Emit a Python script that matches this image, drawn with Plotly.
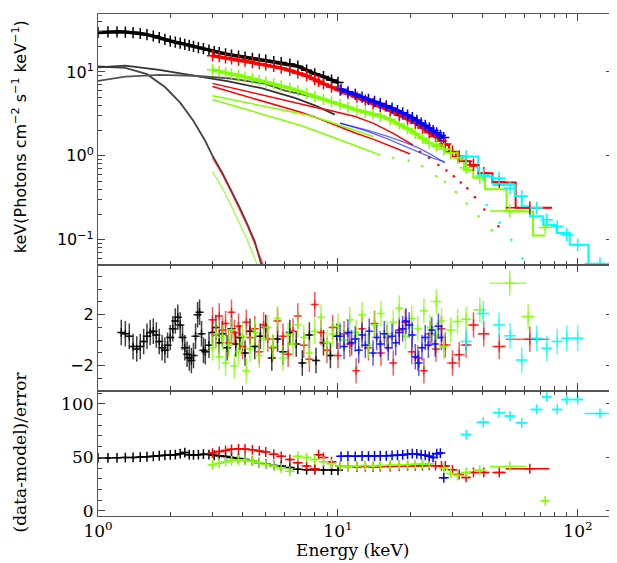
import plotly.graph_objects as go
from plotly.subplots import make_subplots

# ---- black dataset (1-10 keV) ----
E_BLACK = [1.0, 1.1, 1.2, 1.3, 1.4, 1.5, 1.6, 1.7, 1.8, 1.9, 2.0, 2.1, 2.2, 2.3, 2.4, 2.5, 2.62, 2.75,
           2.9, 3.05, 3.2, 3.4, 3.6, 3.85, 4.1, 4.4, 4.7, 5.0, 5.4, 5.8, 6.3, 6.8, 7.4, 8.0, 8.7, 9.4, 10.0]
BLACK_SPEC = [29.5, 30.0, 30.0, 29.8, 29.4, 28.7, 27.8, 26.8, 25.6, 24.4, 23.3, 22.6, 22.0, 21.3, 20.7, 20.1,
              19.5, 18.9, 18.2, 17.5, 17.0, 16.4, 15.9, 15.4, 15.0, 14.5, 14.1, 13.8, 13.3, 12.9, 12.4, 11.7,
              10.5, 9.5, 8.8, 8.0, 7.5]
BLACK_RATIO = [49.5, 49.5, 49.6, 49.8, 50.0, 50.3, 50.6, 51.0, 51.5, 52.0, 52.3, 52.5, 53.5, 54.5, 52.5, 52.3,
               52.5, 53.0, 52.6, 52.0, 51.5, 50.8, 50.0, 49.0, 48.0, 46.5, 45.0, 43.8, 42.5, 42.0, 40.5, 39.0,
               38.5, 38.5, 38.3, 38.2, 38.0]
E_BLACK_RES = [1.25, 1.3, 1.35, 1.4, 1.45, 1.5, 1.55, 1.6, 1.65, 1.7, 1.75, 1.8, 1.85, 1.9, 1.95, 2.0, 2.05,
               2.1, 2.15, 2.2, 2.25, 2.3, 2.35, 2.4, 2.45, 2.5, 2.55, 2.6, 2.65, 2.7, 2.75, 2.8, 2.9, 3.0, 3.1,
               3.2, 3.3, 3.45, 3.6, 3.75, 3.9, 4.1, 4.3, 4.5, 4.75, 5.0, 5.3, 5.6, 5.9, 6.3, 6.7, 7.1, 7.6,
               8.1, 8.7, 9.3, 9.9]
BLACK_RES = [0.6, 0.5, 0.3, -0.5, -0.7, -0.5, -0.1, 0.3, 0.6, 0.7, 0.4, -0.1, -0.6, -0.8, -0.4, 0.2, 0.9,
             1.5, 1.8, 1.2, 0.2, -0.6, -1.1, -1.4, -1.6, -1.2, 0.3, 2.0, 2.2, 0.5, -0.8, -0.9, -0.4, 0.6, 1.0,
             -0.2, 0.5, -0.6, 0.9, -0.3, 0.2, -1.0, 0.7, -0.5, 0.3, 1.0, -1.4, 0.1, -0.9, 0.6, -0.3, -1.8, 0.4,
             -1.6, -0.2, -1.2, 0.3]

# ---- red dataset ----
E_RED = [3.0, 3.2, 3.4, 3.6, 3.85, 4.1, 4.4, 4.7, 5.0, 5.4, 5.8, 6.3, 6.8, 7.4, 8.0, 8.3, 8.7, 9.4, 10.2,
         11.0, 12.0, 13.0, 14.0, 15.0, 16.5, 18.0, 19.5, 21.0, 22.5, 24.0, 25.5, 27.0]
RED_SPEC = [15.6, 15.2, 14.7, 14.3, 13.8, 13.4, 12.9, 12.5, 12.1, 11.6, 11.1, 10.4, 9.7, 9.0, 8.1, 7.7, 7.2,
            6.6, 6.0, 5.5, 5.0, 4.6, 4.2, 3.87, 3.45, 3.05, 2.75, 2.45, 2.15, 1.9, 1.7, 1.5]
RED_RATIO = [54.0, 55.5, 56.5, 57.5, 58.0, 57.8, 57.0, 56.0, 55.0, 53.0, 51.0, 48.0, 45.0, 42.0, 39.5, 52.5,
             50.0, 46.0, 42.0, 41.5, 41.0, 41.5, 41.0, 41.3, 41.5, 41.8, 42.0, 42.0, 42.3, 42.5, 42.3, 42.0]
E_RED_BIN = [28.0, 30.0, 32.0, 34.2, 36.7, 40.5, 47.0, 63.0]
RED_BIN_HW = [0.8, 1.0, 1.0, 1.2, 1.4, 2.2, 3.0, 13.0]
RED_BIN_SPEC = [1.38, 1.12, 0.98, 0.86, 0.78, 0.62, 0.49, 0.24]
RED_BIN_RES = [-0.37, -1.8, -1.15, -0.37, 1.2, 0.5, -0.5, 0.08]
RED_BIN_RATIO = [42.0, 38.4, 34.0, 31.3, 36.0, 36.0, 36.0, 39.4]
RED_STEP_EDGES = [26.5, 29.0, 31.0, 33.0, 35.5, 38.5, 44.0, 55.0, 78.0]
RED_STEP = [1.35, 1.12, 0.98, 0.86, 0.76, 0.62, 0.48, 0.24]

# residual energies shared by the red and green (3-27 keV) sets
E_XMM_RES = [3.0, 3.1, 3.2, 3.3, 3.4, 3.5, 3.6, 3.7, 3.85, 4.0, 4.15, 4.3, 4.5, 4.7, 4.9, 5.1, 5.35, 5.6, 5.9,
             6.2, 6.5, 6.8, 7.2, 7.6, 8.0, 8.5, 9.0, 9.5, 10.0, 10.6, 11.2, 11.9, 12.6, 13.4, 14.2, 15.1, 16.0,
             17.0, 18.0, 19.1, 20.3, 21.5, 22.8, 24.2, 25.6, 27.0]
RED_RES = [1.6, 0.4, 1.9, 0.8, 1.3, -0.2, 2.2, 0.6, 1.1, -0.5, 1.4, 0.2, 0.9, -0.9, 1.2, 0.1, -0.6, 1.5, 0.3,
           -1.1, 0.7, 1.9, -0.4, -1.5, 2.8, 0.6, -0.8, 1.0, -1.2, 0.5, -0.3, -2.4, 0.9, -0.6, 1.3, -1.0, 0.2,
           -1.8, 0.8, 1.4, -0.9, -1.4, -2.4, 0.5, -0.7, 0.9]
GREEN_RES = [-0.6, 0.5, -1.3, 0.2, -1.8, -0.4, 0.8, -2.0, -0.9, 0.3, -2.4, -0.7, 0.6, -1.2, 0.1, 1.0, -0.5,
             1.7, -1.4, 0.4, -0.3, 1.2, 0.2, -1.0, 0.7, 1.8, -0.2, 0.5, 1.1, 0.0, 1.6, 0.6, 2.0, -0.4, 1.2, 2.1,
             0.5, 1.4, 2.5, 0.3, 1.7, 0.9, 2.3, 1.0, 0.4, 1.5]

# ---- green dataset ----
E_GREEN = [3.0, 3.2, 3.4, 3.6, 3.85, 4.1, 4.4, 4.7, 5.0, 5.4, 5.8, 6.3, 6.8, 7.4, 8.0, 8.7, 9.4, 10.2, 11.0,
           12.0, 13.0, 14.0, 15.0, 16.5, 18.0, 19.5, 21.0, 22.5, 24.0]
GREEN_SPEC = [10.6, 10.2, 9.8, 9.5, 9.1, 8.7, 8.3, 7.9, 7.6, 7.2, 6.8, 6.4, 6.0, 5.5, 5.1, 4.7, 4.4, 4.1, 3.8,
              3.5, 3.3, 3.15, 3.0, 2.7, 2.4, 2.1, 1.85, 1.62, 1.42]
GREEN_RATIO = [43.0, 44.5, 46.0, 47.0, 47.8, 47.5, 46.5, 45.0, 43.5, 42.0, 40.0, 37.0, 51.0, 50.0, 48.0, 46.0,
               44.0, 42.0, 41.5, 42.0, 42.5, 42.0, 42.5, 43.0, 43.0, 43.2, 43.5, 43.8, 44.0]
E_GREEN_BIN = [25.7, 27.6, 29.5, 31.5, 34.2, 39.0, 52.0, 62.0, 73.0]
GREEN_BIN_HW = [0.8, 0.9, 0.9, 1.0, 1.3, 2.5, 9.0, 4.0, 2.0]
GREEN_BIN_SPEC = [1.35, 1.2, 1.08, 0.95, 0.72, 0.55, 0.22, None, 0.14]
GREEN_BIN_RES = [3.03, -0.5, 0.8, 1.46, 1.65, 2.38, 4.47, 1.85, None]
GREEN_BIN_RATIO = [None, 40.0, 35.0, 33.0, 36.0, 38.0, 41.5, None, 9.4]
GREEN_STEP_EDGES = [24.5, 27.9, 31.8, 33.5, 36.6, 41.0, 50.4, 65.0, 73.0]
GREEN_STEP = [1.3, 1.12, 0.90, 0.68, 0.55, 0.40, 0.217, 0.112]

# ---- blue dataset ----
E_BLUE = [10.3, 11.0, 11.8, 12.6, 13.4, 14.2, 15.0, 15.9, 16.8, 17.7, 18.6, 19.5, 20.4, 21.3, 22.2, 23.1,
          24.0, 24.9, 25.8, 26.7, 27.6]
BLUE_SPEC = [6.2, 5.8, 5.4, 5.0, 4.7, 4.45, 4.2, 3.95, 3.7, 3.45, 3.25, 3.05, 2.85, 2.65, 2.45, 2.3, 2.15,
             2.0, 1.88, 1.75, 1.65]
BLUE_RATIO = [51.0, 51.2, 51.0, 51.3, 51.2, 51.3, 51.5, 51.5, 51.8, 52.0, 52.3, 53.0, 53.5, 53.2, 52.5, 52.0,
              51.0, 50.0, 53.5, 54.0, 31.0]
E_BLUE_RES = [10.2, 10.6, 11.0, 11.4, 11.8, 12.2, 12.6, 13.0, 13.5, 14.0, 14.5, 15.0, 15.6, 16.2, 16.8, 17.4,
              18.0, 18.6, 19.2, 19.8, 20.4, 21.0, 21.7, 22.4, 23.1, 23.8, 24.6, 25.4, 26.2, 27.0]
BLUE_RES = [0.3, -0.5, 0.6, -0.2, 0.1, -0.8, 0.4, -0.4, 0.7, -1.0, 0.2, -0.3, 0.5, -0.6, 0.3, -0.2, 0.6, 0.9,
            1.5, 1.2, 0.4, -1.3, -1.8, -0.6, 0.2, -0.4, 0.8, -0.3, 1.1, 0.2]

# ---- cyan dataset ----
E_CYAN = [34.2, 40.3, 46.9, 52.1, 58.3, 67.3, 74.1, 82.0, 89.8, 99.7, 123.5]
CYAN_HW = [1.8, 2.5, 2.8, 2.8, 3.2, 4.0, 3.5, 4.0, 4.5, 5.5, 17.0]
CYAN_SPEC = [0.98, 0.59, 0.54, 0.41, 0.33, 0.24, 0.173, 0.144, 0.115, 0.087, 0.052]
CYAN_RES = [-0.1, 2.1, 1.2, 0.34, -1.55, 0.16, -0.63, -0.1, 0.16, 0.16, None]
CYAN_RATIO = [71.3, 82.8, 91.6, 88.5, 82.3, 94.7, 106.3, 94.7, 104.0, 104.0, 91.0]
CYAN_STEP_EDGES = [33.8, 38.4, 44.4, 54.6, 58.3, 63.1, 71.6, 81.4, 92.4, 110.5, 140.0]
CYAN_STEP = [0.98, 0.57, 0.45, 0.33, 0.25, 0.19, 0.15, 0.12, 0.087, 0.045]

# ---- model components ----
E_BB = [1.0, 1.3, 1.6, 1.9, 2.2, 2.5, 2.8, 3.0, 3.3, 3.6, 3.9, 4.2, 4.5, 4.8]
BB_BLACK = [11.6, 11.2, 9.4, 6.6, 4.3, 2.6, 1.5, 1.0, 0.62, 0.38, 0.24, 0.15, 0.095, 0.05]
E_BB2 = [3.0, 3.3, 3.6, 3.9, 4.2, 4.5, 4.8, 5.0]
BB_RED = [0.95, 0.6, 0.37, 0.23, 0.145, 0.09, 0.056, 0.042]
BB_GREEN = [0.65, 0.41, 0.25, 0.155, 0.097, 0.06, 0.037, 0.028]
E_GRAY_Q = [1.0, 1.3, 1.8, 2.5, 3.5, 4.8, 6.6, 8.0, 9.7]
GRAY_Q = [11.3, 11.9, 10.6, 9.0, 7.7, 6.4, 4.9, 4.0, 3.1]
E_GRAY_P = [1.0, 1.3, 1.8, 2.5, 3.5, 4.1, 5.0, 6.0, 7.0, 8.0, 9.1]
GRAY_P = [7.8, 8.8, 9.2, 9.0, 8.4, 7.9, 7.2, 6.0, 5.4, 5.0, 4.6]
E_R1 = [3.0, 4.0, 5.0, 6.0, 7.0, 8.0, 9.0, 10.0, 11.8, 14.0, 17.0, 20.5]
R1 = [7.3, 6.0, 5.2, 4.6, 4.1, 3.8, 3.55, 3.3, 2.94, 2.45, 1.85, 1.35]
E_R2 = [3.0, 4.0, 5.0, 6.0, 7.0, 8.0, 9.25, 10.5, 11.8, 14.0, 17.0, 20.0]
R2 = [6.7, 5.3, 4.4, 3.8, 3.3, 2.9, 2.45, 2.15, 1.87, 1.58, 1.28, 1.05]
E_R_DOTS = [22.0, 24.0, 26.2, 28.3, 30.4, 32.5, 34.6, 37.2, 40.7, 46.6]
R_DOTS = [1.12, 0.95, 0.78, 0.67, 0.57, 0.48, 0.41, 0.32, 0.23, 0.145]
E_G1 = [3.0, 4.0, 5.0, 6.0, 7.5, 9.0, 10.5, 11.8, 14.0]
G1 = [5.2, 4.4, 3.9, 3.5, 3.05, 2.6, 2.25, 2.0, 1.7]
E_G2 = [3.0, 4.0, 5.0, 6.0, 7.0, 8.0, 9.25, 10.5, 11.8, 13.5, 15.0]
G2 = [4.7, 3.7, 3.05, 2.6, 2.3, 2.0, 1.7, 1.5, 1.33, 1.15, 1.02]
E_G_DOTS = [17.0, 19.7, 22.4, 25.7, 27.9, 31.0, 34.4, 38.5, 43.7]
G_DOTS = [0.95, 0.88, 0.75, 0.57, 0.49, 0.37, 0.27, 0.19, 0.13]
E_B_LINE = [10.2, 13.0, 16.0, 19.0, 22.0, 25.0, 27.9]
B1 = [2.45, 2.05, 1.72, 1.45, 1.22, 1.0, 0.82]
B2 = [2.45, 2.0, 1.6, 1.3, 1.08, 0.93, 0.85]
E_C_DOTS = [41.6, 47.1, 52.8, 58.6]
C_DOTS = [0.26, 0.16, 0.10, 0.06]

BLACK = "black"
RED = "#ff0000"
LIME = "#7fff00"
BLUE = "#0000ff"
CYAN = "#00ffff"
FADE = {BLACK: "rgba(0,0,0,0.75)", RED: "rgba(255,0,0,0.65)", LIME: "rgba(127,255,0,0.7)",
        BLUE: "rgba(0,0,255,0.65)", CYAN: "rgba(0,255,255,0.7)"}

fig = make_subplots(rows=3, cols=1, shared_xaxes=True, vertical_spacing=0, row_heights=[0.5, 0.25, 0.25])


def add_points(x, y, color, row, hw=None, yerr=None, size=8, width=1.5):
    """Data points drawn as '+' crosses with error bars"""
    err_x = dict(type="percent", value=2.5) if hw is None else dict(type="data", array=hw)
    err_x.update(color=color, thickness=1.5, width=0)
    trace = go.Scatter(
        x=x, y=y, mode="markers",
        marker=dict(symbol="cross-thin", size=size, line=dict(color=color, width=width)),
        error_x=err_x,
    )
    if yerr is not None:
        trace.error_y = dict(type="constant", value=yerr, color=color, thickness=1.5, width=0)
    fig.add_trace(trace, row=row, col=1)


def add_line(x, y, color, width=1.5, dots=False, shape="linear"):
    fig.add_trace(
        go.Scatter(
            x=x, y=y,
            mode="markers" if dots else "lines",
            line=dict(color=color, width=width, shape=shape),
            marker=dict(color=color, size=2.5),
        ),
        row=1, col=1,
    )


# Top panel - model components
add_line(E_BB, BB_BLACK, "#444444", 1.8)
add_line(E_GRAY_Q, GRAY_Q, "#333333", 1.8)
add_line(E_GRAY_P, GRAY_P, "#555555", 1.8)
add_line(E_BB2, BB_RED, "rgba(255,0,0,0.7)", 1.5)
add_line(E_BB2, BB_GREEN, "rgba(127,255,0,0.8)", 1.2)
add_line(E_R1, R1, RED, 1.5)
add_line(E_R2, R2, RED, 1.5)
add_line(E_R_DOTS, R_DOTS, RED, dots=True)
add_line(E_G1, G1, LIME, 1.5)
add_line(E_G2, G2, LIME, 1.5)
add_line(E_G_DOTS, G_DOTS, LIME, dots=True)
add_line(E_B_LINE, B1, "rgba(0,0,255,0.6)", 1.3)
add_line(E_B_LINE, B2, "rgba(0,0,255,0.6)", 1.3)
add_line(E_C_DOTS, C_DOTS, CYAN, dots=True)

# Top panel - binned model steps
add_line(RED_STEP_EDGES, RED_STEP + RED_STEP[-1:], RED, 2, shape="hv")
add_line(GREEN_STEP_EDGES, GREEN_STEP + GREEN_STEP[-1:], LIME, 2, shape="hv")
add_line(CYAN_STEP_EDGES, CYAN_STEP + CYAN_STEP[-1:], CYAN, 2, shape="hv")

# Top panel - data
add_line(E_BLACK, BLACK_SPEC, BLACK, 3.5)
add_points(E_BLACK, BLACK_SPEC, BLACK, 1, size=8)
add_line(E_GREEN, GREEN_SPEC, LIME, 3.5)
add_points(E_GREEN, GREEN_SPEC, LIME, 1, size=8)
add_line(E_RED, RED_SPEC, RED, 3.5)
add_points(E_RED, RED_SPEC, RED, 1, size=8)
add_line(E_BLUE, BLUE_SPEC, BLUE, 3.5)
add_points(E_BLUE, BLUE_SPEC, BLUE, 1, size=8)
add_points(E_RED_BIN, RED_BIN_SPEC, RED, 1, hw=RED_BIN_HW, size=9)
add_points(E_GREEN_BIN, GREEN_BIN_SPEC, LIME, 1, hw=GREEN_BIN_HW, size=9)
add_points(E_CYAN, CYAN_SPEC, CYAN, 1, hw=CYAN_HW, size=9)

# Middle panel - residuals
fig.add_hline(y=0, line=dict(color="green", width=1.5), row=2, col=1)
add_points(E_BLACK_RES, BLACK_RES, FADE[BLACK], 2, yerr=1, size=6)
add_points(E_XMM_RES, RED_RES, FADE[RED], 2, yerr=1, size=6)
add_points(E_XMM_RES, GREEN_RES, FADE[LIME], 2, yerr=1, size=6)
add_points(E_BLUE_RES, BLUE_RES, FADE[BLUE], 2, yerr=1, size=6)
add_points(E_RED_BIN, RED_BIN_RES, FADE[RED], 2, hw=RED_BIN_HW, yerr=1, size=8)
add_points(E_GREEN_BIN, GREEN_BIN_RES, FADE[LIME], 2, hw=GREEN_BIN_HW, yerr=1, size=8)
add_points(E_CYAN, CYAN_RES, FADE[CYAN], 2, hw=CYAN_HW, yerr=1, size=8)

# Bottom panel
fig.add_hline(y=0, line=dict(color="rgba(0,128,0,0.55)", width=2.5), row=3, col=1)
add_points(E_BLACK, BLACK_RATIO, BLACK, 3, size=7)
add_points(E_RED, RED_RATIO, RED, 3, size=7)
add_points(E_GREEN, GREEN_RATIO, LIME, 3, size=7)
add_points(E_BLUE, BLUE_RATIO, BLUE, 3, size=7)
add_points(E_RED_BIN, RED_BIN_RATIO, RED, 3, hw=RED_BIN_HW, size=7)
add_points(E_GREEN_BIN, GREEN_BIN_RATIO, LIME, 3, hw=GREEN_BIN_HW, size=7)
add_points(E_CYAN, CYAN_RATIO, CYAN, 3, hw=CYAN_HW, size=7)

# Axes styling
SANS = dict(family="DejaVu Sans", size=16, color="black")
SERIF = dict(family="DejaVu Serif", size=17, color="black")
FRAME = dict(showline=True, linecolor="#555555", linewidth=1.1, mirror="allticks", ticks="inside",
             ticklen=7, tickcolor="#444444", showgrid=False, zeroline=False)

fig.update_xaxes(
    type="log", range=[0, 2.146],
    tickvals=[1, 10, 100], ticktext=["10<sup>0</sup>", "10<sup>1</sup>", "10<sup>2</sup>"],
    minor=dict(ticks="inside", ticklen=4, tickcolor="#444444",
               tickvals=[2, 3, 4, 5, 6, 7, 8, 9, 20, 30, 40, 50, 60, 70, 80, 90]),
    tickfont=SERIF, **FRAME,
)
fig.update_yaxes(
    type="log", range=[-1.301, 1.69],
    tickvals=[0.1, 1, 10], ticktext=["10<sup>\u22121</sup>", "10<sup>0</sup>", "10<sup>1</sup>"],
    minor=dict(ticks="inside", ticklen=4, tickcolor="#444444",
               tickvals=[0.06, 0.07, 0.08, 0.09, 0.2, 0.3, 0.4, 0.5, 0.6, 0.7, 0.8, 0.9,
                         2, 3, 4, 5, 6, 7, 8, 9, 20, 30, 40]),
    tickfont=SANS, row=1, col=1, **FRAME,
)
fig.update_yaxes(
    range=[-3.95, 5.9], tickvals=[-2, 2], ticktext=["\u22122", "2"],
    minor=dict(ticks="inside", ticklen=4, tickcolor="#444444", dtick=1),
    tickfont=SANS, row=2, col=1, **FRAME,
)
fig.update_yaxes(
    range=[-4.7, 112.4], tickvals=[0, 50, 100],
    minor=dict(ticks="inside", ticklen=4, tickcolor="#444444", dtick=10),
    tickfont=SERIF, row=3, col=1, **FRAME,
)

# the page body adds an 8px offset, so margins are shifted to compensate
fig.update_layout(
    width=617, height=563,
    margin=dict(l=90, r=12, t=6, b=55),
    paper_bgcolor="white", plot_bgcolor="white",
    showlegend=False,
    annotations=[
        dict(text="keV(Photons cm<sup>\u22122</sup> s<sup>\u22121</sup> keV<sup>\u22121</sup>)",
             xref="paper", yref="paper", x=-0.151, y=0.755, textangle=-90,
             showarrow=False, font=SANS, xanchor="center", yanchor="middle"),
        dict(text="(data-model)/error",
             xref="paper", yref="paper", x=-0.151, y=0.127, textangle=-90,
             showarrow=False, font=SERIF, xanchor="center", yanchor="middle"),
        dict(text="Energy (keV)",
             xref="paper", yref="paper", x=0.495, y=-0.068,
             showarrow=False, font=SERIF, xanchor="center", yanchor="middle"),
    ],
)

fig.write_html("out.html")
